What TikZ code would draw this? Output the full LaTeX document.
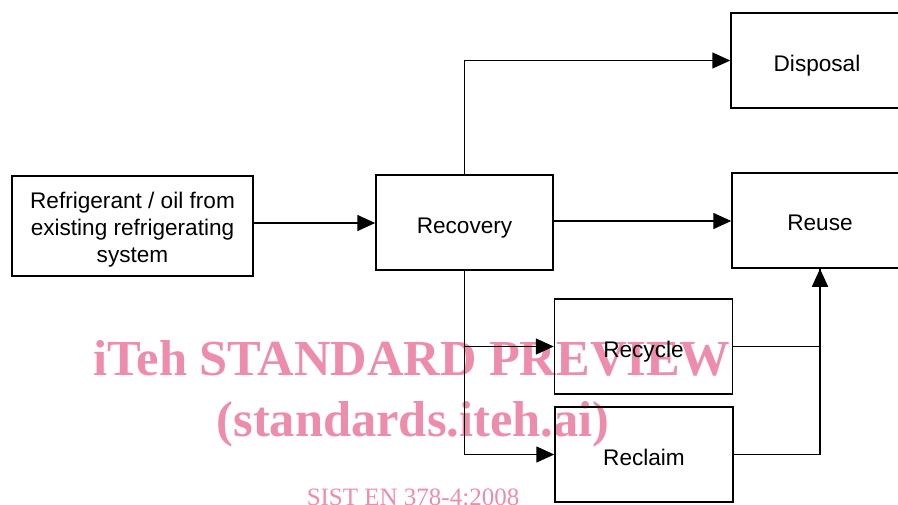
\documentclass[tikz,border=0pt]{standalone}
\usepackage{fontspec}
\setmainfont{Liberation Sans}
\newfontfamily\wmfont{Liberation Serif}
\usetikzlibrary{arrows.meta}
\definecolor{wmpink}{RGB}{238,140,172}
\newcommand\lowtxt[2][4pt]{\raisebox{-#1}[\height][\depth]{#2}}
\tikzset{
  box/.style={draw=black, line width=1.5pt, inner sep=0pt, align=center,
    font=\fontsize{22.6}{27}\selectfont},
  conn/.style={draw=black, line width=1.6pt},
  arr/.style={conn, -{Triangle[length=18pt,width=16pt]}},
  wm/.style={text=wmpink, inner sep=0pt, anchor=base}
}
\begin{document}
\begin{tikzpicture}[x=1pt,y=-1pt]
\useasboundingbox (0,0) rectangle (898,504);
% watermark
\node[wm, font=\wmfont\bfseries\fontsize{50.5}{55}\selectfont] (w1) at (412,375) {iTeh STANDARD PREVIEW};
\node[wm, font=\wmfont\bfseries\fontsize{50.5}{55}\selectfont] (w2) at (413,436) {(standards.iteh.ai)};
\node[wm, font=\wmfont\fontsize{25}{28}\selectfont] (w3) at (413,505) {SIST EN 378-4:2008};
% boxes
\node[box, minimum width=241, minimum height=100] (ref) at (132.5,226) {\lowtxt{Refrigerant / oil from}\\\lowtxt{existing refrigerating}\\\lowtxt{system}};
\node[box, minimum width=177, minimum height=95] (rec) at (464.5,222.5) {\lowtxt[5.5pt]{Recovery}};
\node[box, minimum width=172, minimum height=95] (disp) at (817,60.5) {\lowtxt[5pt]{Disposal}};
\node[box, minimum width=176, minimum height=95] (reuse) at (820,220.5) {\lowtxt[2pt]{Reuse}};
\node[box, minimum width=178, minimum height=95] (rcy) at (643.5,346.5) {\lowtxt[5pt]{Recycle}};
\node[box, minimum width=178, minimum height=95] (recl) at (644,454.5) {\lowtxt[3pt]{Reclaim}};
% connectors
\draw[arr] (ref.east |- 0,223) -- (rec.west |- 0,223);
\draw[arr] (rec.east |- 0,221) -- (reuse.west |- 0,221);
\draw[arr] (rec.north) |- (disp.west);
\draw[arr] (rec.south) |- (recl.west);
\draw[arr] (rec.south |- rcy.west) -- (rcy.west);
\draw[conn] (rcy.east) -| (reuse.south);
\draw[arr] (recl.east) -| (reuse.south);
\end{tikzpicture}
\end{document}
